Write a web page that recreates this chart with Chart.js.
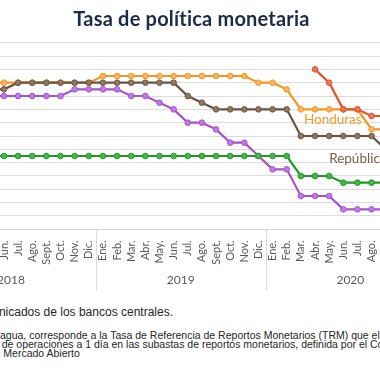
<!DOCTYPE html>
<html lang="es">
<head>
<meta charset="utf-8">
<title>Tasa de política monetaria</title>
<script src="https://cdn.jsdelivr.net/npm/chart.js@4.4.1/dist/chart.umd.min.js"></script>
<style>
  html, body { margin: 0; padding: 0; background: #fff; }
  body { width: 380px; height: 380px; overflow: hidden; position: relative; }
  #title { position: absolute; left: 0; top: 6px; width: 383px; text-align: center;
           font: bold 20px Lato, sans-serif; line-height: 1.2; color: #1c2b48; letter-spacing: 0.2px; }
  #wrap { position: absolute; left: -100px; top: 0; width: 560px; height: 300px; }
  .note { position: absolute; white-space: nowrap; line-height: 1; color: #262626;
          font-family: "Liberation Sans", Arial, sans-serif; }
</style>
</head>
<body>
<div id="wrap"><canvas id="chart" width="560" height="300"></canvas></div>
<div id="title">Tasa de política monetaria</div>
<div class="note" id="n1" style="right:207px; top:306px; font-size:12px;">Fuente: elaboración propia con base en comunicados de los bancos centrales.</div>
<div class="note" id="n2" style="top:330px; font-size:10.5px;"></div>
<div class="note" id="n3" style="top:339.3px; font-size:10.5px;"></div>
<div class="note" id="n4" style="top:348px; font-size:10.5px;"></div>
<script>
// months / years on the axis
const months = ['Ene.', 'Feb.', 'Mar.', 'Abr.', 'May.', 'Jun.', 'Jul.', 'Ago.', 'Sept.', 'Oct.', 'Nov.', 'Dic.'];
const years = ['2018', '2019', '2020'];

// policy rates, Jan 2018 .. Dec 2020 (null = not shown)
const nicaragua = [
  null, null, null, null, null, null, null, null, null, null, null, null,
  null, null, null, null, null, null, null, null, null, null, null, null,
  null, null, null, 6.0, 5.5, 4.5, 4.5, 4.25, 4.25, null, null, null
];
const repDominicana = [
  null, null, null, null, 5.25, 5.25, 5.5, 5.5, 5.5, 5.5, 5.5, 5.5,
  5.5, 5.5, 5.5, 5.5, 5.5, 5.5, 5.0, 4.75, 4.5, 4.5, 4.5, 4.5,
  4.5, 4.5, 3.5, 3.5, 3.5, 3.5, 3.5, 3.5, 3.0, null, null, null
];
const honduras = [
  null, null, null, null, 5.5, 5.5, 5.5, 5.5, 5.5, 5.5, 5.5, 5.5,
  5.75, 5.75, 5.75, 5.75, 5.75, 5.75, 5.75, 5.75, 5.75, 5.75, 5.75, 5.5,
  5.5, 5.25, 4.5, 4.5, 4.5, 4.5, 4.5, 3.75, 3.75, null, null, null
];
const guatemala = [
  null, null, null, null, 2.75, 2.75, 2.75, 2.75, 2.75, 2.75, 2.75, 2.75,
  2.75, 2.75, 2.75, 2.75, 2.75, 2.75, 2.75, 2.75, 2.75, 2.75, 2.75, 2.75,
  2.75, 2.75, 2.0, 2.0, 2.0, 1.75, 1.75, 1.75, 1.75, null, null, null
];
const costaRica = [
  null, null, null, null, 5.0, 5.0, 5.0, 5.0, 5.0, 5.0, 5.25, 5.25,
  5.25, 5.25, 5.0, 5.0, 4.75, 4.5, 4.0, 4.0, 3.75, 3.25, 3.25, 2.75,
  2.25, 2.25, 1.25, 1.25, 1.25, 0.75, 0.75, 0.75, 0.75, null, null, null
];

// in-chart series names: category index and value where the text sits
const seriesNotes = [
  { text: 'Honduras', at: 26, value: 4.1, dx: 3, color: '#f39a2c' },
  { text: 'República Dominicana', at: 28, value: 2.65, dx: 0, color: '#76644f' }
];

const labels = years.flatMap(() => months);

function serie(label, data, color, fill) {
  return {
    label, data,
    borderColor: color, backgroundColor: fill,
    borderWidth: 2.2, tension: 0,
    pointRadius: 2.8, pointBorderWidth: 1,
    pointBackgroundColor: fill, pointBorderColor: color
  };
}

const yearAxis = {
  id: 'yearAxis',
  afterDraw(chart) {
    const ctx = chart.ctx, x = chart.scales.x, y = chart.scales.y;
    const step = x.getPixelForValue(1) - x.getPixelForValue(0);
    ctx.save();
    ctx.strokeStyle = '#d9d9d9';
    ctx.lineWidth = 1;
    ctx.fillStyle = '#595959';
    ctx.font = '12px Lato, sans-serif';
    ctx.textAlign = 'center';
    ctx.textBaseline = 'middle';
    years.forEach((yr, k) => {
      const first = k * 12, last = first + 11;
      const edge = Math.round(x.getPixelForValue(first) - step / 2) + 0.5;
      ctx.beginPath();
      ctx.moveTo(edge, x.top);
      ctx.lineTo(edge, x.top + 61);
      ctx.stroke();
      ctx.fillText(yr, (x.getPixelForValue(first) + x.getPixelForValue(last)) / 2, x.top + 51);
    });
    ctx.font = '13.5px Lato, sans-serif';
    ctx.textAlign = 'left';
    seriesNotes.forEach(n => {
      ctx.fillStyle = n.color;
      ctx.fillText(n.text, x.getPixelForValue(n.at) + n.dx, y.getPixelForValue(n.value));
    });
    ctx.restore();
  }
};

new Chart(document.getElementById('chart'), {
  type: 'line',
  data: {
    labels: labels,
    datasets: [
      serie('Nicaragua', nicaragua, '#e0532b', '#ef7450'),
      serie('República Dominicana', repDominicana, '#6b533d', '#8f7864'),
      serie('Honduras', honduras, '#f5951f', '#fab564'),
      serie('Guatemala', guatemala, '#1f991f', '#42b94a'),
      serie('Costa Rica', costaRica, '#a552cb', '#c27ae3')
    ]
  },
  options: {
    responsive: false,
    animation: false,
    layout: { autoPadding: false, padding: { left: 26.2, right: 24.8, top: 42.7, bottom: 0 } },
    plugins: { legend: { display: false }, tooltip: { enabled: false }, title: { display: false } },
    scales: {
      x: {
        offset: true,
        grid: { display: false },
        border: { display: true, color: '#d9d9d9', width: 1 },
        ticks: {
          autoSkip: false, minRotation: 90, maxRotation: 90, padding: 3,
          color: '#595959', font: { family: 'Lato, sans-serif', size: 11 }
        },
        afterFit(s) { s.height = 70.7; s.paddingLeft = 0; s.paddingRight = 0; }
      },
      y: {
        min: 0, max: 7,
        grid: { color: '#dcdcdc', lineWidth: 1, drawTicks: false },
        border: { display: false },
        ticks: { display: false, stepSize: 0.5 },
        afterFit(s) { s.width = 0; s.paddingTop = 0; s.paddingBottom = 0; }
      }
    }
  },
  plugins: [yearAxis]
});

// footnote lines: the first part of each line sits left of the window
function placeNote(id, hidden, shown, startX) {
  const el = document.getElementById(id);
  const a = document.createElement('span');
  const b = document.createElement('span');
  a.textContent = hidden;
  b.textContent = shown;
  el.append(a, b);
  el.style.left = (startX - a.getBoundingClientRect().width) + 'px';
}
placeNote('n2', 'Nota: En el caso de Nicar', 'agua, corresponde a la Tasa de Referencia de Reportos Monetarios (TRM) que el BCN utiliza como referencia para la tasa', 0);
placeNote('n3', 'tasa ', 'de operaciones a 1 día en las subastas de reportos monetarios, definida por el Comité de Operaciones de', 1.7);
placeNote('n4', 'Operaciones de\u00a0', 'Mercado Abierto', 3.3);
</script>
</body>
</html>
